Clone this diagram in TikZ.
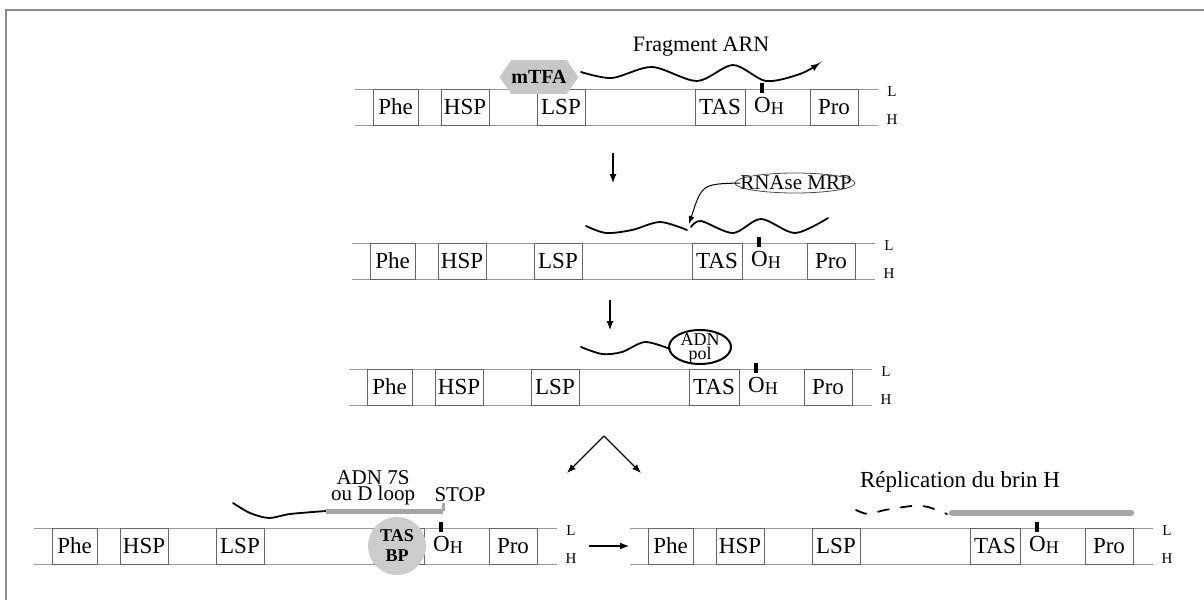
\documentclass[tikz,border=0pt]{standalone}
\usepackage{fontspec}
\setmainfont{Liberation Serif}
\usetikzlibrary{arrows.meta,shapes.symbols}

\tikzset{
  ligne/.style={draw=black!40,line width=1pt},
  gene/.style={draw=black!60,line width=1pt,minimum height=36pt,inner sep=0pt,font=\fontsize{23}{24}\selectfont},
  lettre/.style={font=\fontsize{15}{16}\selectfont,inner sep=0pt},
  texte/.style={font=\fontsize{22}{24}\selectfont,inner sep=0pt},
  arn/.style={line width=1.8pt,line cap=round},
  fleche/.style={-{Latex[length=9pt,width=7pt]},line width=1.2pt},
  hexa/.style={signal,signal to=east and west,signal pointer angle=110,fill=black!22,
    minimum width=72pt,minimum height=34pt,inner sep=0pt,font=\bfseries\fontsize{20}{22}\selectfont},
  barre/.style={draw=black!35,line width=5pt},
}

% brin : #1 nom, #2 x gauche, #3 y du brin L, #4 texte de TAS
\newcommand{\brin}[4]{%
  \begin{scope}[shift={(#2,#3)}]
    \draw[ligne] (0,0) -- (523,0);
    \draw[ligne] (0,36) -- (523,36);
    \node[gene,minimum width=45pt] (#1phe) at (40.5,18) {Phe};
    \node[gene,minimum width=48pt] (#1hsp) at (110,18) {HSP};
    \node[gene,minimum width=48pt] (#1lsp) at (206,18) {LSP};
    \node[gene,minimum width=50pt] (#1tas) at (365,18) {#4};
    \node[gene,minimum width=48pt] (#1pro) at (479,18) {Pro};
    \fill (405,-6) rectangle (409,4);
    \node[texte,font=\fontsize{23}{24}\selectfont,anchor=base west] (#1oh) at (399,23) {O\raisebox{-.25ex}{\fontsize{18}{18}\selectfont H}};
    \node[lettre] (#1l) at (537,3) {L};
    \node[lettre] (#1h) at (537,31) {H};
  \end{scope}}

\begin{document}
\begin{tikzpicture}[x=1pt,y=-1pt]
\useasboundingbox (0,0) rectangle (1204,600);
% CADRE
\draw[black!45,line width=1.5pt] (6,600) -- (6,10) -- (1204,10);
% BRINS
\brin{r1}{355}{89}{TAS}
\brin{r2}{352}{243}{TAS}
\brin{r3}{349}{369}{TAS}
\brin{r4g}{34}{528}{}
\brin{r4d}{630}{528}{TAS}
% ETAPE 1 : TRANSCRIPTION
\node[hexa] (mtfa) at (539,77) {mTFA};
\node[texte] (frag) at (701,47) {Fragment ARN};
\draw[arn,fleche,line width=1.8pt] plot[smooth] coordinates {(581,72) (612,78) (652,67) (697,81) (733,65) (766,81) (800,74) (820,63)};
\coordinate (d1) at (613,153);
\coordinate (f1) at (613,183);
\draw[fleche] (d1) -- (f1);
% ETAPE 2 : COUPURE
\node[font=\fontsize{21}{22}\selectfont,inner sep=0pt] (mrp) at (796,183) {RNAse MRP};
\draw[line width=0.8pt,black!70] (795,183) ellipse [x radius=60pt,y radius=10pt];
\coordinate (coupe) at (689,224);
\draw[-{Latex[length=8pt,width=6pt]},line width=1pt] (mrp.west) .. controls (702,184) .. (coupe);
\draw[arn] plot[smooth] coordinates {(586,226) (606,233) (632,230) (660,222) (687,230)};
\draw[arn] plot[smooth] coordinates {(691,227) (701,221) (733,233) (761,219) (795,233) (828,218)};
\coordinate (d2) at (610,300);
\coordinate (f2) at (610,330);
\draw[fleche] (d2) -- (f2);
% ETAPE 3 : ADN POL
\draw[arn] plot[smooth] coordinates {(581,347) (602,354) (622,352) (645,342) (670,349)};
\draw[line width=2pt] (700,347) ellipse [x radius=31pt,y radius=17pt];
\node[align=center,inner sep=0pt,font=\fontsize{18}{14}\selectfont] (pol) at (700,348) {ADN\\pol};
\coordinate (sommet) at (604,436);
\coordinate (vg) at (567,473);
\coordinate (vd) at (641,473);
\draw[fleche] (sommet) -- (vg);
\draw[fleche] (sommet) -- (vd);
% ARRET : ADN 7S
\node[circle,fill=black!20,minimum size=58pt,inner sep=0pt,align=center,font=\bfseries\fontsize{18}{20}\selectfont] (tasbp) at (397,546) {TAS\\BP};
\draw[arn] plot[smooth] coordinates {(233,503) (250,513) (269,518) (290,514) (326,511)};
\draw[barre] (326,511) -- (443,511);
\draw[draw=black!35,line width=3pt] (443,511) -- (443,503);
\node[align=center,inner sep=0pt,font=\fontsize{21}{16}\selectfont] (d7s) at (373,488) {ADN 7S\\ou D loop};
\node[texte,font=\fontsize{21}{22}\selectfont] (stop) at (460,495) {STOP};
\coordinate (ag) at (589,546);
\coordinate (ad) at (629,546);
\draw[fleche] (ag) -- (ad);
% REPLICATION DU BRIN H
\node[texte,font=\fontsize{23}{24}\selectfont] (repl) at (960,482) {Réplication du brin H};
\draw[arn,dash pattern=on 11pt off 12pt] plot[smooth] coordinates {(856,510) (868,514) (885,510) (912,506) (928,507) (947,514)};
\draw[barre,line width=6.5pt,line cap=round] (952,513) -- (1131,513);
\end{tikzpicture}
\end{document}
